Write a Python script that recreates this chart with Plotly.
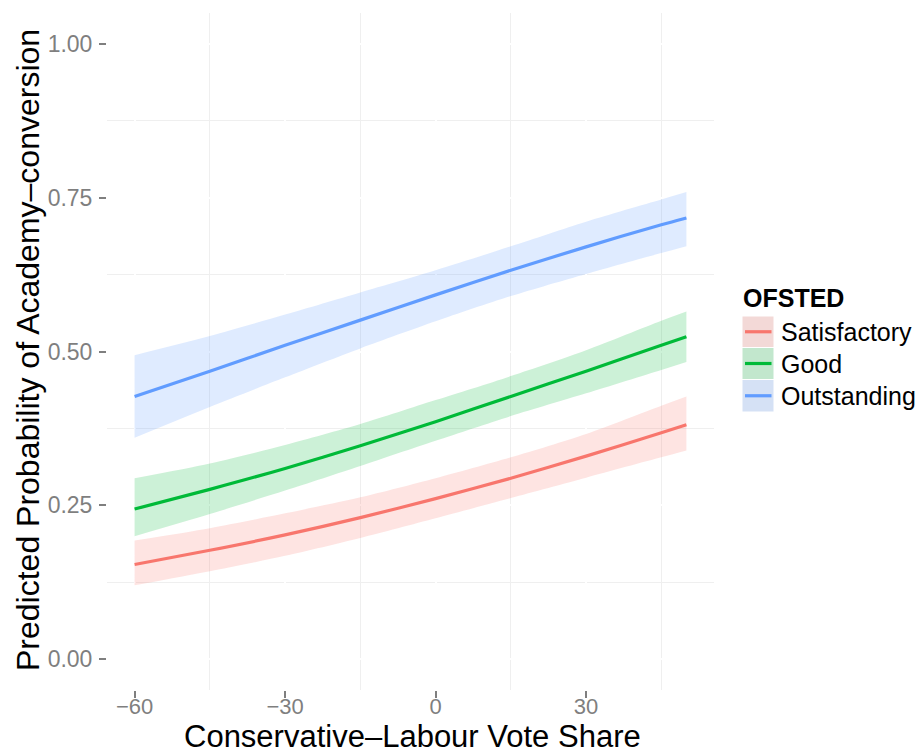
import plotly.graph_objects as go

# Conservative-Labour vote share (x) and predicted probability of conversion
vote_share = [-60, -45, -30, -15, 0, 15, 30, 45, 50]

groups = ["Satisfactory", "Good", "Outstanding"]
colors = ["#F8766D", "#00BA38", "#619CFF"]
fills = ["rgba(248,118,109,0.2)", "rgba(0,186,56,0.2)", "rgba(97,156,255,0.2)"]
key_fills = ["#F3D9D7", "#C2E7CD", "#D5E1F5"]

satisfactory_fit = [0.154, 0.177, 0.202, 0.230, 0.261, 0.294, 0.330, 0.368, 0.381]
satisfactory_lo = [0.120, 0.143, 0.168, 0.197, 0.229, 0.262, 0.295, 0.328, 0.339]
satisfactory_hi = [0.193, 0.213, 0.237, 0.263, 0.294, 0.328, 0.366, 0.412, 0.427]

good_fit = [0.244, 0.276, 0.310, 0.347, 0.386, 0.427, 0.468, 0.510, 0.524]
good_lo = [0.200, 0.236, 0.274, 0.314, 0.355, 0.395, 0.432, 0.470, 0.483]
good_hi = [0.294, 0.318, 0.348, 0.382, 0.421, 0.460, 0.502, 0.550, 0.565]

outstanding_fit = [0.427, 0.468, 0.510, 0.551, 0.592, 0.632, 0.670, 0.706, 0.717]
outstanding_lo = [0.360, 0.410, 0.458, 0.505, 0.549, 0.590, 0.626, 0.660, 0.671]
outstanding_hi = [0.494, 0.525, 0.560, 0.596, 0.632, 0.671, 0.711, 0.747, 0.759]

fits = [satisfactory_fit, good_fit, outstanding_fit]
lows = [satisfactory_lo, good_lo, outstanding_lo]
highs = [satisfactory_hi, good_hi, outstanding_hi]

y_ticks = [0.0, 0.25, 0.5, 0.75, 1.0]
y_ticktext = ["0.00", "0.25", "0.50", "0.75", "1.00"]
x_ticks = [-60, -30, 0, 30]
x_ticktext = ["\u221260", "\u221230", "0", "30"]

W, H = 922, 756
L, R, T, B = 107, 714, 13, 690
PW, PH = R - L, B - T


def px(x):
    return (x - L) / PW


def py(y):
    return (B - y) / PH


FONT = "Liberation Sans, Arial, Helvetica, sans-serif"
GREY = "#7F7F7F"

fig = go.Figure()

# confidence ribbons
for lo, hi, fc, name in zip(lows, highs, fills, groups):
    fig.add_trace(go.Scatter(x=vote_share, y=lo, mode="lines",
                             line=dict(width=0, shape="spline", smoothing=0.8),
                             showlegend=False, hoverinfo="skip"))
    fig.add_trace(go.Scatter(x=vote_share, y=hi, mode="lines",
                             line=dict(width=0, shape="spline", smoothing=0.8),
                             fill="tonexty", fillcolor=fc, showlegend=False,
                             hoverinfo="skip", name=name))

# fitted probabilities
for fit, c, name in zip(fits, colors, groups):
    fig.add_trace(go.Scatter(x=vote_share, y=fit, mode="lines", name=name,
                             line=dict(color=c, width=3.2, shape="spline",
                                       smoothing=0.8),
                             showlegend=False))

axis_common = dict(
    showline=False, zeroline=False, showgrid=True, gridcolor="white", gridwidth=1.5,
    ticks="outside", ticklen=7, tickwidth=1.5, tickcolor=GREY,
)

fig.update_xaxes(range=[-65.5, 55.5], tickmode="array", tickvals=x_ticks,
                 ticktext=x_ticktext, ticklabelstandoff=-10,
                 tickfont=dict(family=FONT, size=22, color=GREY),
                 minor=dict(tickvals=[-45, -15, 15, 45], showgrid=True,
                            gridcolor="#EFEFEF", gridwidth=1, ticks=""),
                 **axis_common)
fig.update_yaxes(range=[-0.05, 1.05], tickmode="array", tickvals=y_ticks,
                 ticktext=y_ticktext, ticklabelstandoff=2,
                 tickfont=dict(family=FONT, size=23, color=GREY),
                 minor=dict(tickvals=[0.125, 0.375, 0.625, 0.875], showgrid=True,
                            gridcolor="#EFEFEF", gridwidth=1, ticks=""),
                 **axis_common)

annotations = [
    dict(text="Conservative\u2013Labour Vote Share", xref="paper", yref="paper",
         x=px(412), y=py(756), xanchor="center", yanchor="bottom", showarrow=False,
         font=dict(family=FONT, size=31, color="black")),
    dict(text="Predicted Probability of Academy\u2013conversion", xref="paper",
         yref="paper", x=px(28), y=py(350), xanchor="center", yanchor="middle",
         textangle=-90, showarrow=False, font=dict(family=FONT, size=32, color="black")),
    dict(text="<b>OFSTED</b>", xref="paper", yref="paper", x=px(741), y=py(298),
         xanchor="left", yanchor="middle", showarrow=False,
         font=dict(family=FONT, size=25, color="black")),
]

shapes = []
rows = [(316, 347.5), (347.5, 379.5), (379.5, 412)]
for (y0, y1), kf, c, name in zip(rows, key_fills, colors, groups):
    shapes.append(dict(type="rect", xref="paper", yref="paper",
                       x0=px(742), x1=px(774), y0=py(y1), y1=py(y0),
                       fillcolor=kf, line=dict(color="white", width=1)))
    yc = (y0 + y1) / 2
    shapes.append(dict(type="line", xref="paper", yref="paper",
                       x0=px(745), x1=px(771.5), y0=py(yc), y1=py(yc),
                       line=dict(color=c, width=3.2)))
    annotations.append(dict(text=name, xref="paper", yref="paper", x=px(779),
                            y=py(yc), xanchor="left", yanchor="middle",
                            showarrow=False,
                            font=dict(family=FONT, size=25, color="black")))

fig.update_layout(
    width=W, height=H,
    margin=dict(l=L, r=W - R, t=T, b=H - B, autoexpand=False),
    plot_bgcolor="white", paper_bgcolor="white",
    showlegend=False,
    annotations=annotations, shapes=shapes,
    font=dict(family=FONT),
)

fig.write_html("out.html")
